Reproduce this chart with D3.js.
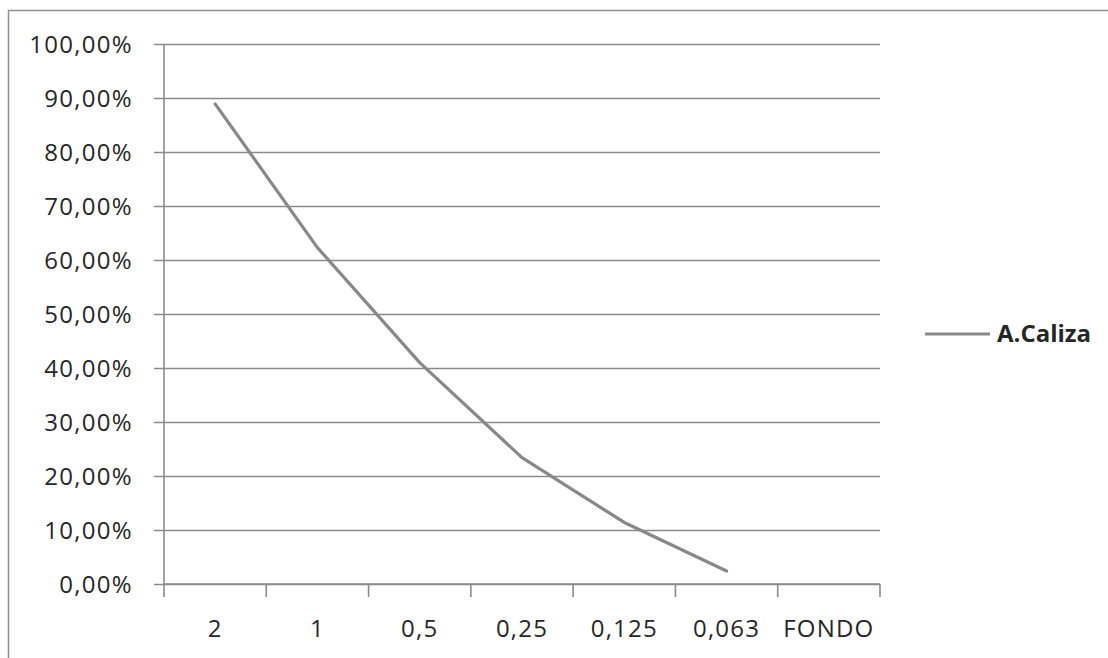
<!DOCTYPE html>
<html>
<head>
<meta charset="utf-8">
<script src="https://cdn.jsdelivr.net/npm/d3@7"></script>
<style>
  html, body { margin: 0; padding: 0; background: #fff; }
  svg { display: block; }
  text { font-family: "Open Sans", "DejaVu Sans", sans-serif; fill: #262626; }
</style>
</head>
<body>
<svg id="chart" width="1108" height="658"></svg>
<script>
// Sieve sizes (mm) on the category axis
const categories = ["2", "1", "0,5", "0,25", "0,125", "0,063", "FONDO"];
// Cumulative passing fraction for the limestone sample (no reading at FONDO)
const caliza = [0.889, 0.623, 0.410, 0.234, 0.114, 0.024, null];
const seriesName = "A.Caliza";
const yTicks = [0, 0.1, 0.2, 0.3, 0.4, 0.5, 0.6, 0.7, 0.8, 0.9, 1.0];

const svg = d3.select("#chart");
const plot = { left: 164, right: 880, top: 44, bottom: 584 };
const gridColor = "#8a8a8a";

// outer chart frame (runs past the right and bottom edges)
svg.append("rect")
  .attr("x", 8.5).attr("y", 10.5)
  .attr("width", 1200).attr("height", 700)
  .attr("fill", "none").attr("stroke", "#8f8f8f").attr("stroke-width", 1.5);

const x = d3.scaleBand().domain(categories).range([plot.left, plot.right]).padding(0);
const y = d3.scaleLinear().domain([0, 1]).range([plot.bottom, plot.top]);

const fmt = v => (v * 100).toFixed(2).replace(".", ",") + "%";

// horizontal gridlines with the value axis
const yAxis = d3.axisLeft(y).tickValues(yTicks).tickFormat(fmt)
  .tickSize(-(plot.right - plot.left)).tickPadding(22);
const gy = svg.append("g").attr("transform", `translate(${plot.left},0)`).call(yAxis);
gy.select(".domain").remove();
gy.selectAll(".tick line").attr("stroke", gridColor).attr("stroke-width", 1.6)
  .attr("x1", -10);
gy.selectAll(".tick text").attr("font-size", 24).attr("letter-spacing", 1.3)
  .attr("x", -31).attr("dy", "0.34em");

// vertical value axis line
svg.append("line")
  .attr("x1", plot.left).attr("x2", plot.left)
  .attr("y1", plot.top).attr("y2", plot.bottom)
  .attr("stroke", gridColor).attr("stroke-width", 1.6);

// category axis with tick marks at the band boundaries
const gx = svg.append("g").attr("transform", `translate(0,${plot.bottom})`)
  .call(d3.axisBottom(x).tickSize(0).tickPadding(0));
gx.select(".domain").attr("stroke", gridColor).attr("stroke-width", 1.6)
  .attr("d", `M${plot.left},0H${plot.right}`);
gx.selectAll(".tick text").attr("font-size", 24).attr("letter-spacing", 1.2)
  .attr("y", 53).attr("dy", 0);

const boundaries = categories.map(c => x(c)).concat([plot.right]);
svg.append("g").selectAll("line").data(boundaries).join("line")
  .attr("x1", d => d).attr("x2", d => d)
  .attr("y1", plot.bottom).attr("y2", plot.bottom + 13)
  .attr("stroke", gridColor).attr("stroke-width", 1.6);

// series line
const pts = categories.map((c, i) => ({ c, v: caliza[i] }));
const line = d3.line()
  .defined(d => d.v != null)
  .x(d => x(d.c) + x.bandwidth() / 2)
  .y(d => y(d.v));
svg.append("path").datum(pts)
  .attr("d", line)
  .attr("fill", "none").attr("stroke", "#888888")
  .attr("stroke-width", 3.2).attr("stroke-linejoin", "round").attr("stroke-linecap", "round");

// legend
const lg = svg.append("g").attr("transform", "translate(925,334)");
lg.append("line").attr("x1", 0).attr("x2", 65).attr("y1", 0).attr("y2", 0)
  .attr("stroke", "#888888").attr("stroke-width", 3.2);
lg.append("text").attr("x", 72).attr("y", 0).attr("dy", "0.35em")
  .attr("font-size", 24).attr("font-weight", "bold").text(seriesName);
</script>
</body>
</html>
